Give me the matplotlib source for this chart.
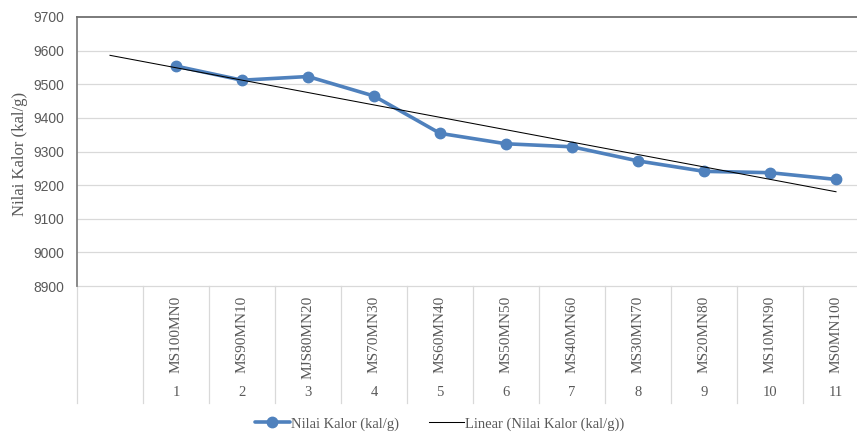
import numpy as np
import matplotlib
matplotlib.use("Agg")
import matplotlib.pyplot as plt
from matplotlib.transforms import blended_transform_factory

# Sample names and their run numbers on the category axis
samples = ["MS100MN0", "MS90MN10", "MJS80MN20", "MS70MN30", "MS60MN40",
           "MS50MN50", "MS40MN60", "MS30MN70", "MS20MN80", "MS10MN90", "MS0MN100"]
run_numbers = ["1", "2", "3", "4", "5", "6", "7", "8", "9", "10", "11"]
# Calorific value (kal/g) for each sample
nilai_kalor = [9554, 9512, 9523, 9465, 9354, 9323, 9314, 9272, 9241, 9237, 9217]

y_ticks = [8900, 9000, 9100, 9200, 9300, 9400, 9500, 9600, 9700]

SERIF = ["Liberation Serif", "DejaVu Serif"]
SANS = ["Liberation Sans", "DejaVu Sans"]
BLUE = "#4F81BD"
GRID = "#D9D9D9"
TEXT = "#595959"

W, H = 857, 432
fig = plt.figure(figsize=(W / 100, H / 100), dpi=100)

# plot area in pixels: left 77, top 17, bottom 286, 12 category slots of 66 px
left_px, top_px, bot_px, slot_px = 77, 17, 286, 66
n_slots = len(samples) + 1
ax = fig.add_axes([left_px / W, 1 - bot_px / H,
                   n_slots * slot_px / W, (bot_px - top_px) / H])

# slot 0 is an empty category; samples occupy slots 1..11
x_all = np.arange(n_slots)
x_data = x_all[1:]
ax.set_xlim(-0.5, n_slots - 0.5)
ax.set_ylim(y_ticks[0], y_ticks[-1])

# horizontal gridlines
for yv in y_ticks[1:-1]:
    ax.axhline(yv, color=GRID, lw=0.9, zorder=0)

# data series
ax.plot(x_data, nilai_kalor, color=BLUE, lw=2.6, marker="o", ms=7.5,
        solid_capstyle="round", zorder=3, label="Nilai Kalor (kal/g)")

# least-squares trendline over the full category range (Excel-style index fit)
coef = np.polyfit(x_data, nilai_kalor, 1)
trend = np.polyval(coef, x_all)
ax.plot(x_all, trend, color="black", lw=0.75, zorder=4,
        label="Linear (Nilai Kalor (kal/g))")

# spines
for s in ["right", "bottom"]:
    ax.spines[s].set_visible(False)
ax.spines["left"].set_color("#808080")
ax.spines["left"].set_linewidth(1.3)
ax.spines["top"].set_color("#707070")
ax.spines["top"].set_linewidth(1.3)

ax.set_yticks(y_ticks)
ax.set_yticklabels([str(v) for v in y_ticks], fontfamily=SANS, fontsize=10, color=TEXT)
ax.tick_params(axis="y", length=0, pad=9)
ax.set_xticks([])

# y-axis title
fig.text(20 / W, 1 - 153.5 / H, "Nilai Kalor (kal/g)", rotation=90, ha="center", va="center",
         fontfamily=SERIF, fontsize=12, color=TEXT)

# multi-level category axis below the plot
trans = blended_transform_factory(ax.transData, ax.transAxes)
ax_h = bot_px - top_px
cat_bottom = -(403 - bot_px) / ax_h
ax.plot([-0.5, n_slots - 0.5], [0, 0], transform=trans, color=GRID, lw=0.9, clip_on=False)
for k in range(n_slots + 1):
    xe = -0.5 + k
    ax.plot([xe, xe], [0, cat_bottom], transform=trans, color=GRID, lw=0.9, clip_on=False)

name_y = -(296 - bot_px) / ax_h
num_y = -(393 - bot_px) / ax_h
for xi, name, num in zip(x_data, samples, run_numbers):
    ax.text(xi, name_y, name, transform=trans, rotation=90, ha="center", va="top",
            fontfamily=SERIF, fontsize=11, color=TEXT, clip_on=False)
    ax.text(xi, num_y, num, transform=trans, ha="center", va="center",
            fontfamily=SERIF, fontsize=10.5, color=TEXT, clip_on=False)

leg = fig.legend(loc="center", bbox_to_anchor=(0.513, 1 - 424 / H), ncol=2, frameon=False,
                 prop={"family": SERIF, "size": 10.5}, handlelength=2.4,
                 handletextpad=0.1, columnspacing=2.0)
for t in leg.get_texts():
    t.set_color(TEXT)

fig.savefig("out.png", dpi=100)
